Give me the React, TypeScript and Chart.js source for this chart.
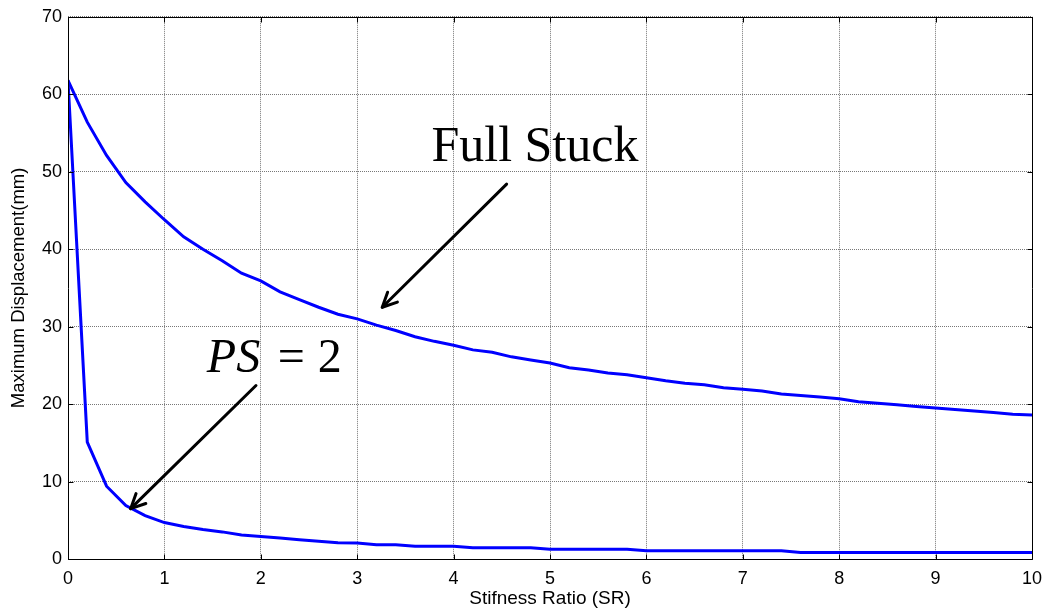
import React, { useEffect, useRef } from "react";
import { Chart, registerables } from "chart.js";

Chart.register(...registerables);

// ---- Data ----
const stiffnessRatio = [
  0, 0.2, 0.4, 0.6, 0.8, 1.0, 1.2, 1.4, 1.6, 1.8,
  2.0, 2.2, 2.4, 2.6, 2.8, 3.0, 3.2, 3.4, 3.6, 3.8,
  4.0, 4.2, 4.4, 4.6, 4.8, 5.0, 5.2, 5.4, 5.6, 5.8,
  6.0, 6.2, 6.4, 6.6, 6.8, 7.0, 7.2, 7.4, 7.6, 7.8,
  8.0, 8.2, 8.4, 8.6, 8.8, 9.0, 9.2, 9.4, 9.6, 9.8, 10.0,
];

const fullStuck = [
  61.8, 56.4, 52.1, 48.6, 46.1, 43.8, 41.6, 40.0, 38.5, 36.9,
  35.9, 34.5, 33.5, 32.5, 31.6, 31.0, 30.2, 29.5, 28.7, 28.1,
  27.6, 27.0, 26.7, 26.1, 25.7, 25.3, 24.7, 24.4, 24.0, 23.8,
  23.4, 23.0, 22.7, 22.5, 22.1, 21.9, 21.7, 21.3, 21.1, 20.9,
  20.7, 20.3, 20.1, 19.9, 19.7, 19.5, 19.3, 19.1, 18.9, 18.7, 18.6,
];

const partialStuckPS2 = [
  61.8, 15.1, 9.4, 6.9, 5.6, 4.7, 4.2, 3.8, 3.5, 3.1,
  2.9, 2.7, 2.5, 2.3, 2.1, 2.05, 1.85, 1.85, 1.65, 1.65,
  1.65, 1.45, 1.45, 1.45, 1.45, 1.25, 1.25, 1.25, 1.25, 1.25,
  1.05, 1.05, 1.05, 1.05, 1.05, 1.05, 1.05, 1.05, 0.85, 0.85,
  0.85, 0.85, 0.85, 0.85, 0.85, 0.85, 0.85, 0.85, 0.85, 0.85, 0.85,
];

const xTickValues = [0, 1, 2, 3, 4, 5, 6, 7, 8, 9, 10];
const yTickValues = [0, 10, 20, 30, 40, 50, 60, 70];

const xTitle = "Stifness Ratio (SR)";
const yTitle = "Maximum Displacement(mm)";

// annotation anchors (data coordinates)
const fullStuckLabel = { text: "Full Stuck", x: 3.77, y: 51.4 };
const fullStuckArrow = { fromX: 4.55, fromY: 48.4, toX: 3.26, toY: 32.5 };
const psLabel = { x: 1.44, y: 24.1 };
const psArrow = { fromX: 1.95, fromY: 22.4, toX: 0.65, toY: 6.5 };

const SANS = "'Liberation Sans', Arial, sans-serif";
const SERIF = "'Liberation Serif', 'Times New Roman', serif";

function drawArrow(ctx: CanvasRenderingContext2D, x1: number, y1: number, x2: number, y2: number) {
  const ang = Math.atan2(y2 - y1, x2 - x1);
  const head = 16;
  const spread = 0.45;
  ctx.beginPath();
  ctx.moveTo(x1, y1);
  ctx.lineTo(x2, y2);
  ctx.stroke();
  ctx.beginPath();
  ctx.moveTo(x2 - head * Math.cos(ang - spread), y2 - head * Math.sin(ang - spread));
  ctx.lineTo(x2, y2);
  ctx.lineTo(x2 - head * Math.cos(ang + spread), y2 - head * Math.sin(ang + spread));
  ctx.stroke();
}

const framePlugin = {
  id: "matlabFrame",
  afterDatasetsDraw(chart: any) {
    const { ctx, chartArea, scales } = chart;
    const { left, right, top, bottom } = chartArea;
    const xs = scales.x;
    const ys = scales.y;
    const a = (v: number) => Math.round(v) + 0.5;
    ctx.save();
    ctx.strokeStyle = "#000";
    ctx.lineWidth = 1;
    ctx.beginPath();
    ctx.rect(a(left), a(top), Math.round(right) - Math.round(left), Math.round(bottom) - Math.round(top));
    ctx.stroke();
    const tl = 5;
    ctx.beginPath();
    for (const v of xTickValues) {
      const px = a(xs.getPixelForValue(v));
      ctx.moveTo(px, a(bottom));
      ctx.lineTo(px, a(bottom) - tl);
      ctx.moveTo(px, a(top));
      ctx.lineTo(px, a(top) + tl);
    }
    for (const v of yTickValues) {
      const py = a(ys.getPixelForValue(v));
      ctx.moveTo(a(left), py);
      ctx.lineTo(a(left) + tl, py);
      ctx.moveTo(a(right), py);
      ctx.lineTo(a(right) - tl, py);
    }
    ctx.stroke();
    ctx.restore();
  },
  afterDraw(chart: any) {
    const { ctx, scales } = chart;
    const xs = scales.x;
    const ys = scales.y;
    const px = (v: number) => xs.getPixelForValue(v);
    const py = (v: number) => ys.getPixelForValue(v);
    ctx.save();
    ctx.fillStyle = "#000";
    ctx.strokeStyle = "#000";
    ctx.lineWidth = 3;
    ctx.lineCap = "round";
    ctx.lineJoin = "round";
    // Full Stuck
    ctx.font = `50px ${SERIF}`;
    ctx.textBaseline = "alphabetic";
    ctx.textAlign = "left";
    ctx.fillText(fullStuckLabel.text, px(fullStuckLabel.x), py(fullStuckLabel.y));
    drawArrow(ctx, px(fullStuckArrow.fromX), py(fullStuckArrow.fromY), px(fullStuckArrow.toX), py(fullStuckArrow.toY));
    // PS = 2
    const x0 = px(psLabel.x);
    const y0 = py(psLabel.y);
    ctx.font = `italic 48px ${SERIF}`;
    ctx.fillText("PS", x0, y0);
    ctx.font = `48px ${SERIF}`;
    ctx.fillText("=", x0 + 71, y0);
    ctx.fillText("2", x0 + 111, y0);
    drawArrow(ctx, px(psArrow.fromX), py(psArrow.fromY), px(psArrow.toX), py(psArrow.toY));
    ctx.restore();
  },
};

export default function App() {
  const canvasRef = useRef<HTMLCanvasElement | null>(null);

  useEffect(() => {
    const canvas = canvasRef.current;
    if (!canvas) return;
    const chart = new Chart(canvas, {
      type: "line",
      data: {
        datasets: [
          {
            label: "Full Stuck",
            data: stiffnessRatio.map((x, i) => ({ x, y: fullStuck[i] })),
            borderColor: "#0000ff",
            borderWidth: 3,
            pointRadius: 0,
            tension: 0,
            fill: false,
          },
          {
            label: "PS = 2",
            data: stiffnessRatio.map((x, i) => ({ x, y: partialStuckPS2[i] })),
            borderColor: "#0000ff",
            borderWidth: 3,
            pointRadius: 0,
            tension: 0,
            fill: false,
          },
        ],
      },
      options: {
        animation: false,
        responsive: false,
        devicePixelRatio: 1,
        layout: { padding: { left: 0, right: 20, top: 16, bottom: 0 } },
        plugins: {
          legend: { display: false },
          tooltip: { enabled: false },
        },
        scales: {
          x: {
            type: "linear",
            min: 0,
            max: 10,
            afterBuildTicks: (scale: any) => {
              scale.ticks = xTickValues.map((v) => ({ value: v }));
            },
            ticks: {
              font: { family: SANS, size: 18 },
              color: "#000",
              padding: 9,
              maxRotation: 0,
              autoSkip: false,
            },
            grid: { color: "#777", lineWidth: 1, drawTicks: false },
            border: { display: false, dash: [1, 1] },
            title: {
              display: true,
              text: xTitle,
              font: { family: SANS, size: 19 },
              color: "#000",
              padding: { top: 0, bottom: 6 },
            },
            afterFit: (scale: any) => {
              scale.height = 57;
            },
          },
          y: {
            type: "linear",
            min: 0,
            max: 70,
            afterBuildTicks: (scale: any) => {
              scale.ticks = yTickValues.map((v) => ({ value: v }));
            },
            ticks: {
              font: { family: SANS, size: 18 },
              color: "#000",
              padding: 6,
              autoSkip: false,
            },
            grid: { color: "#777", lineWidth: 1, drawTicks: false },
            border: { display: false, dash: [1, 1] },
            title: {
              display: true,
              text: yTitle,
              font: { family: SANS, size: 18.5 },
              color: "#000",
              padding: { top: 8, bottom: 0 },
            },
            afterFit: (scale: any) => {
              scale.width = 68;
            },
          },
        },
      },
      plugins: [framePlugin],
    } as any);
    return () => chart.destroy();
  }, []);

  return (
    <div style={{ position: "absolute", left: 0, top: 0, width: 1052, height: 616, background: "#fff" }}>
      <canvas ref={canvasRef} width={1052} height={616} style={{ display: "block" }} />
    </div>
  );
}
